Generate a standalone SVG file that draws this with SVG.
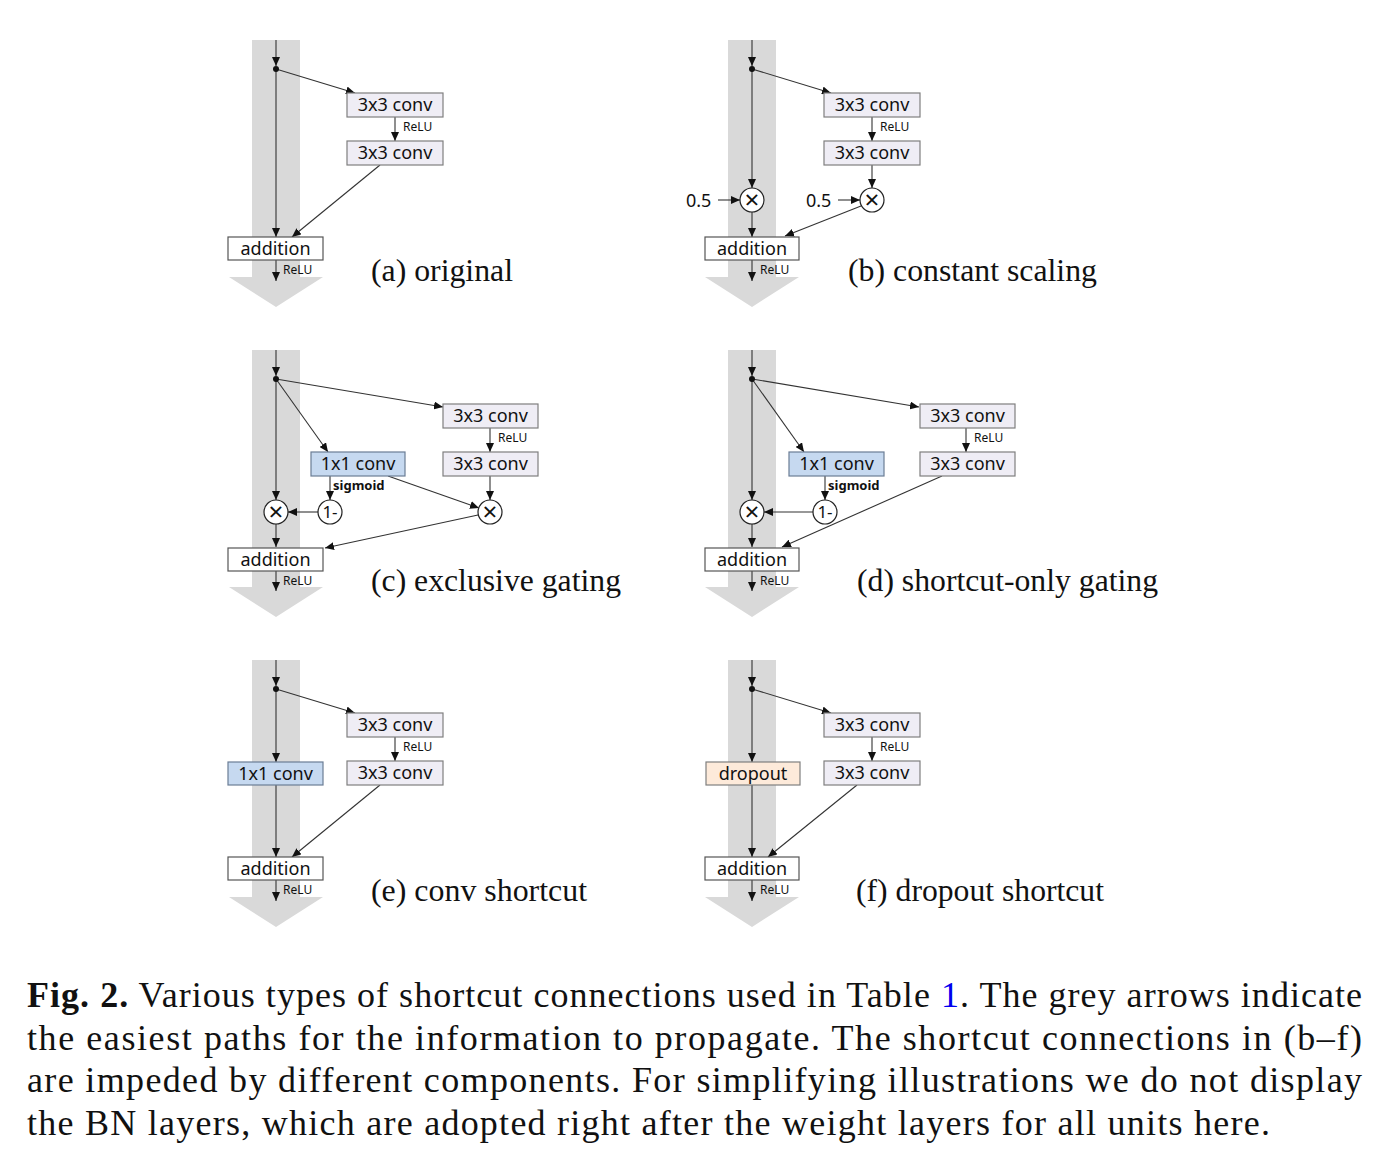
<svg xmlns="http://www.w3.org/2000/svg" width="1392" height="1152" viewBox="0 0 1392 1152">
<defs>
<marker id="ah" markerWidth="9" markerHeight="8" refX="9" refY="4" orient="auto" markerUnits="userSpaceOnUse"><path d="M0,0 L9,4 L0,8 z" fill="#111"/></marker>
<style>
.band{fill:#d9d9d9;stroke:none}
.ln{stroke:#333;stroke-width:1.1;fill:none;marker-end:url(#ah)}
.conv{fill:#efedf5;stroke:#7f7f7f;stroke-width:1.2}
.blue{fill:#c6d9f0;stroke:#6b7d95;stroke-width:1.2}
.drop{fill:#fdeada;stroke:#7f7f7f;stroke-width:1.2}
.add{fill:#fff;stroke:#555;stroke-width:1.2}
.circ{fill:#fff;stroke:#222;stroke-width:1.2}
.bt{font-family:"Noto Sans","Open Sans","DejaVu Sans",sans-serif;font-size:18px;fill:#111;text-anchor:middle}
.sm{font-family:"Noto Sans","Open Sans","DejaVu Sans",sans-serif;font-size:12px;fill:#111}
.sig{font-family:"Noto Sans","Open Sans","DejaVu Sans",sans-serif;font-size:13px;font-weight:bold;fill:#111}
.ct{font-family:"Noto Sans","DejaVu Sans",sans-serif;font-size:17px;fill:#111;text-anchor:middle}
.mx{font-family:"Noto Sans","DejaVu Sans",sans-serif;font-size:26px;fill:#111;text-anchor:middle}
.num{font-family:"Noto Sans","Open Sans","DejaVu Sans",sans-serif;font-size:18px;fill:#111}
.lab{font-family:"Liberation Serif","Times New Roman",serif;font-size:32px;fill:#111}
.cap{font-family:"Liberation Serif","Times New Roman",serif;font-size:36px;fill:#111}
</style>
</defs>
<rect width="1392" height="1152" fill="#fff"/>

<!-- Panel (a) -->
<g id="panel-a">
  <path class="band" d="M252,40 H300 V277 H323 L276,307 L229,277 H252 Z"/>
  <g id="a-connectors">
    <line class="ln" x1="276" y1="40" x2="276" y2="66"/>
    <line class="ln" x1="276" y1="69" x2="276" y2="237"/>
    <line class="ln" x1="276" y1="69" x2="355" y2="93"/>
    <line class="ln" x1="395" y1="117" x2="395" y2="141"/>
    <line class="ln" x1="380" y1="165" x2="292" y2="237"/>
    <line class="ln" x1="276" y1="260" x2="276" y2="281"/>
  </g>
  <circle cx="276" cy="69" r="3" fill="#111"/>
  <g id="a-conv1"><rect class="conv" x="347" y="93" width="96" height="24"/><text class="bt" x="395" y="111">3x3 conv</text></g>
  <text class="sm" x="403" y="131">ReLU</text>
  <g id="a-conv2"><rect class="conv" x="347" y="141" width="96" height="24"/><text class="bt" x="395" y="159">3x3 conv</text></g>
  <g id="a-add"><rect class="add" x="228" y="237" width="95" height="23"/><text class="bt" x="275.5" y="255">addition</text></g>
  <text class="sm" x="283" y="274">ReLU</text>
  <text class="lab" x="371" y="281" textLength="142" lengthAdjust="spacingAndGlyphs">(a) original</text>
</g>

<!-- Panel (b) -->
<g id="panel-b" transform="translate(476,0)">
  <path class="band" d="M252,40 H300 V277 H323 L276,307 L229,277 H252 Z"/>
  <g id="b-connectors">
    <line class="ln" x1="276" y1="40" x2="276" y2="66"/>
    <line class="ln" x1="276" y1="69" x2="276" y2="188"/>
    <line class="ln" x1="276" y1="212" x2="276" y2="237"/>
    <line class="ln" x1="242" y1="200" x2="264" y2="200"/>
    <line class="ln" x1="276" y1="69" x2="355" y2="93"/>
    <line class="ln" x1="396" y1="117" x2="396" y2="141"/>
    <line class="ln" x1="396" y1="165" x2="396" y2="188"/>
    <line class="ln" x1="362" y1="200" x2="384" y2="200"/>
    <line class="ln" x1="385" y1="206" x2="309" y2="236"/>
    <line class="ln" x1="276" y1="260" x2="276" y2="281"/>
  </g>
  <circle cx="276" cy="69" r="3" fill="#111"/>
  <g id="b-conv1"><rect class="conv" x="348" y="93" width="96" height="24"/><text class="bt" x="396" y="111">3x3 conv</text></g>
  <text class="sm" x="404" y="131">ReLU</text>
  <g id="b-conv2"><rect class="conv" x="348" y="141" width="96" height="24"/><text class="bt" x="396" y="159">3x3 conv</text></g>
  <g id="b-mul1"><circle class="circ" cx="276" cy="200" r="12"/><text class="mx" x="276" y="209">×</text></g>
  <g id="b-mul2"><circle class="circ" cx="396" cy="200" r="12"/><text class="mx" x="396" y="209">×</text></g>
  <text class="num" x="210" y="207">0.5</text>
  <text class="num" x="330" y="207">0.5</text>
  <g id="b-add"><rect class="add" x="229" y="237" width="94" height="23"/><text class="bt" x="276" y="255">addition</text></g>
  <text class="sm" x="284" y="274">ReLU</text>
  <text class="lab" x="372" y="281" textLength="249" lengthAdjust="spacingAndGlyphs">(b) constant scaling</text>
</g>

<!-- Panel (c) -->
<g id="panel-c" transform="translate(0,310)">
  <path class="band" d="M252,40 H300 V277 H323 L276,307 L229,277 H252 Z"/>
  <g id="c-connectors">
    <line class="ln" x1="276" y1="40" x2="276" y2="66"/>
    <line class="ln" x1="276" y1="69" x2="276" y2="190"/>
    <line class="ln" x1="276" y1="214" x2="276" y2="237"/>
    <line class="ln" x1="276" y1="69" x2="443" y2="97"/>
    <line class="ln" x1="276" y1="69" x2="328" y2="142"/>
    <line class="ln" x1="490" y1="118" x2="490" y2="142"/>
    <line class="ln" x1="330" y1="166" x2="330" y2="190"/>
    <line class="ln" x1="318" y1="202" x2="288" y2="202"/>
    <line class="ln" x1="388" y1="166" x2="479" y2="198"/>
    <line class="ln" x1="490" y1="166" x2="490" y2="190"/>
    <line class="ln" x1="478" y1="205" x2="325" y2="238"/>
    <line class="ln" x1="276" y1="261" x2="276" y2="281"/>
  </g>
  <circle cx="276" cy="69" r="3" fill="#111"/>
  <g id="c-conv1"><rect class="conv" x="443" y="94" width="95" height="24"/><text class="bt" x="490.5" y="112">3x3 conv</text></g>
  <text class="sm" x="498" y="132">ReLU</text>
  <g id="c-conv2"><rect class="conv" x="443" y="142" width="95" height="24"/><text class="bt" x="490.5" y="160">3x3 conv</text></g>
  <g id="c-gate"><rect class="blue" x="311" y="142" width="94" height="24"/><text class="bt" x="358" y="160">1x1 conv</text></g>
  <text class="sig" x="333" y="180">sigmoid</text>
  <g id="c-mul1"><circle class="circ" cx="276" cy="202" r="12"/><text class="mx" x="276" y="211">×</text></g>
  <g id="c-oneminus"><circle class="circ" cx="330" cy="202" r="12"/><text class="ct" x="330" y="208">1-</text></g>
  <g id="c-mul2"><circle class="circ" cx="490" cy="202" r="12"/><text class="mx" x="490" y="211">×</text></g>
  <g id="c-add"><rect class="add" x="228" y="238" width="95" height="23"/><text class="bt" x="275.5" y="256">addition</text></g>
  <text class="sm" x="283" y="275">ReLU</text>
  <text class="lab" x="371" y="281" textLength="250" lengthAdjust="spacingAndGlyphs">(c) exclusive gating</text>
</g>

<!-- Panel (d) -->
<g id="panel-d" transform="translate(476,310)">
  <path class="band" d="M252,40 H300 V277 H323 L276,307 L229,277 H252 Z"/>
  <g id="d-connectors">
    <line class="ln" x1="276" y1="40" x2="276" y2="66"/>
    <line class="ln" x1="276" y1="69" x2="276" y2="190"/>
    <line class="ln" x1="276" y1="214" x2="276" y2="237"/>
    <line class="ln" x1="276" y1="69" x2="443" y2="97"/>
    <line class="ln" x1="276" y1="69" x2="328" y2="142"/>
    <line class="ln" x1="490" y1="118" x2="490" y2="142"/>
    <line class="ln" x1="349" y1="166" x2="349" y2="190"/>
    <line class="ln" x1="337" y1="202" x2="288" y2="202"/>
    <line class="ln" x1="466" y1="166" x2="306" y2="237"/>
    <line class="ln" x1="276" y1="261" x2="276" y2="281"/>
  </g>
  <circle cx="276" cy="69" r="3" fill="#111"/>
  <g id="d-conv1"><rect class="conv" x="444" y="94" width="95" height="24"/><text class="bt" x="491.5" y="112">3x3 conv</text></g>
  <text class="sm" x="498" y="132">ReLU</text>
  <g id="d-conv2"><rect class="conv" x="444" y="142" width="95" height="24"/><text class="bt" x="491.5" y="160">3x3 conv</text></g>
  <g id="d-gate"><rect class="blue" x="313" y="142" width="95" height="24"/><text class="bt" x="360.5" y="160">1x1 conv</text></g>
  <text class="sig" x="352" y="180">sigmoid</text>
  <g id="d-mul1"><circle class="circ" cx="276" cy="202" r="12"/><text class="mx" x="276" y="211">×</text></g>
  <g id="d-oneminus"><circle class="circ" cx="349" cy="202" r="12"/><text class="ct" x="349" y="208">1-</text></g>
  <g id="d-add"><rect class="add" x="229" y="238" width="94" height="23"/><text class="bt" x="276" y="256">addition</text></g>
  <text class="sm" x="284" y="275">ReLU</text>
  <text class="lab" x="381" y="281" textLength="301" lengthAdjust="spacingAndGlyphs">(d) shortcut-only gating</text>
</g>

<!-- Panel (e) -->
<g id="panel-e" transform="translate(0,620)">
  <path class="band" d="M252,40 H300 V277 H323 L276,307 L229,277 H252 Z"/>
  <g id="e-connectors">
    <line class="ln" x1="276" y1="40" x2="276" y2="66"/>
    <line class="ln" x1="276" y1="69" x2="276" y2="142"/>
    <line class="ln" x1="276" y1="165" x2="276" y2="237"/>
    <line class="ln" x1="276" y1="69" x2="355" y2="93"/>
    <line class="ln" x1="395" y1="117" x2="395" y2="141"/>
    <line class="ln" x1="380" y1="165" x2="292" y2="237"/>
    <line class="ln" x1="276" y1="260" x2="276" y2="281"/>
  </g>
  <circle cx="276" cy="69" r="3" fill="#111"/>
  <g id="e-conv1"><rect class="conv" x="347" y="93" width="96" height="24"/><text class="bt" x="395" y="111">3x3 conv</text></g>
  <text class="sm" x="403" y="131">ReLU</text>
  <g id="e-conv2"><rect class="conv" x="347" y="141" width="96" height="24"/><text class="bt" x="395" y="159">3x3 conv</text></g>
  <g id="e-shortconv"><rect class="blue" x="228" y="142" width="95" height="23"/><text class="bt" x="275.5" y="160">1x1 conv</text></g>
  <g id="e-add"><rect class="add" x="228" y="237" width="95" height="23"/><text class="bt" x="275.5" y="255">addition</text></g>
  <text class="sm" x="283" y="274">ReLU</text>
  <text class="lab" x="371" y="281" textLength="216" lengthAdjust="spacingAndGlyphs">(e) conv shortcut</text>
</g>

<!-- Panel (f) -->
<g id="panel-f" transform="translate(476,620)">
  <path class="band" d="M252,40 H300 V277 H323 L276,307 L229,277 H252 Z"/>
  <g id="f-connectors">
    <line class="ln" x1="276" y1="40" x2="276" y2="66"/>
    <line class="ln" x1="276" y1="69" x2="276" y2="142"/>
    <line class="ln" x1="276" y1="165" x2="276" y2="237"/>
    <line class="ln" x1="276" y1="69" x2="355" y2="93"/>
    <line class="ln" x1="396" y1="117" x2="396" y2="141"/>
    <line class="ln" x1="381" y1="165" x2="292" y2="237"/>
    <line class="ln" x1="276" y1="260" x2="276" y2="281"/>
  </g>
  <circle cx="276" cy="69" r="3" fill="#111"/>
  <g id="f-conv1"><rect class="conv" x="348" y="93" width="96" height="24"/><text class="bt" x="396" y="111">3x3 conv</text></g>
  <text class="sm" x="404" y="131">ReLU</text>
  <g id="f-conv2"><rect class="conv" x="348" y="141" width="96" height="24"/><text class="bt" x="396" y="159">3x3 conv</text></g>
  <g id="f-dropout"><rect class="drop" x="230" y="142" width="94" height="23"/><text class="bt" x="277" y="160">dropout</text></g>
  <g id="f-add"><rect class="add" x="229" y="237" width="94" height="23"/><text class="bt" x="276" y="255">addition</text></g>
  <text class="sm" x="284" y="274">ReLU</text>
  <text class="lab" x="380" y="281" textLength="248" lengthAdjust="spacingAndGlyphs">(f) dropout shortcut</text>
</g>

<!-- Caption -->
<g id="caption">
  <text class="cap" x="27" y="1007" textLength="1335" lengthAdjust="spacing"><tspan font-weight="bold">Fig. 2.</tspan> Various types of shortcut connections used in Table <tspan fill="#0000ee">1</tspan>. The grey arrows indicate</text>
  <text class="cap" x="27" y="1050" textLength="1335" lengthAdjust="spacing">the easiest paths for the information to propagate. The shortcut connections in (b–f)</text>
  <text class="cap" x="27" y="1092" textLength="1335" lengthAdjust="spacing">are impeded by different components. For simplifying illustrations we do not display</text>
  <text class="cap" x="27" y="1135" textLength="1243" lengthAdjust="spacing">the BN layers, which are adopted right after the weight layers for all units here.</text>
</g>
</svg>
